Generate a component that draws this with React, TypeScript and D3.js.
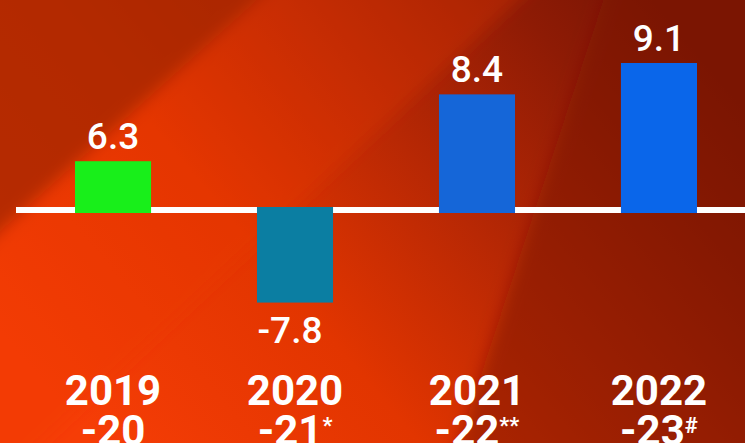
import React from 'react';
import * as d3 from 'd3';

// Growth by fiscal year (values as printed on the chart)
const years = ['2019', '2020', '2021', '2022'];
const yearSuffix = ['-20', '-21', '-22', '-23'];
const footMarks = ['', '*', '**', '#'];
const growth = [6.3, -7.8, 8.4, 9.1];
const barColors = ['#18ef1a', '#0b7ea2', '#1566d8', '#0a66ea'];

const width = 745;
const height = 443;

export default function App() {
    const idx = d3.range(years.length);

    const x = d3.scaleBand<number>()
        .domain(idx)
        .range([75, 697])
        .paddingInner(0.582)
        .paddingOuter(0);

    // the source infographic is not drawn to a linear scale; a cubic one fits it best
    const maxV = d3.max(growth, (d) => Math.abs(d)) as number;
    const y = d3.scalePow()
        .exponent(3)
        .domain([0, maxV])
        .range([210, 63]);

    const y0 = y(0);
    const lineW = 6;
    const valueFont = 37;

    return (
        <div style={{ width, height, overflow: 'hidden' }}>
            <style>{'body{margin:0}'}</style>
            <svg width={width} height={height} style={{ display: 'block' }}
                fontFamily="Roboto, 'Noto Sans', sans-serif">
                <defs>
                    <linearGradient id="bg" x1="0" y1="0.75" x2="1" y2="0.25">
                        <stop offset="0" stopColor="#f63d06" />
                        <stop offset="0.35" stopColor="#e23500" />
                        <stop offset="0.6" stopColor="#b82804" />
                        <stop offset="0.85" stopColor="#8e1b05" />
                        <stop offset="1" stopColor="#7a1505" />
                    </linearGradient>
                    <filter id="soft" x="-20%" y="-20%" width="140%" height="140%">
                        <feGaussianBlur stdDeviation="8" />
                    </filter>
                </defs>

                {/* background */}
                <rect width={width} height={height} fill="url(#bg)" />
                <g filter="url(#soft)">
                    <polygon points="-20,-20 280,-20 -20,250" fill="#a82600" opacity={0.8} />
                    <polygon points="280,-20 540,-20 -20,500 -20,250" fill="#ec3a04" opacity={0.3} />
                    <polygon points="610,-20 780,-20 780,470 450,470" fill="#7e1604" opacity={0.5} />
                </g>

                {/* zero line */}
                <line x1={16} x2={width} y1={y0} y2={y0} stroke="#ffffff" strokeWidth={lineW} />

                {/* bars */}
                {idx.map((i) => {
                    const v = growth[i];
                    const top = v >= 0 ? y(v) : y0 - lineW / 2;
                    const bottom = v >= 0 ? y0 + lineW / 2 : y(v);
                    return (
                        <rect key={'b' + i} x={x(i)} y={top} width={x.bandwidth()}
                            height={bottom - top} fill={barColors[i]} />
                    );
                })}

                {/* value labels */}
                {idx.map((i) => {
                    const v = growth[i];
                    const cx = (x(i) as number) + x.bandwidth() / 2;
                    const ty = v >= 0 ? y(v) - 12 : y(v) + 14 + valueFont * 0.711;
                    return (
                        <text key={'v' + i} x={cx - (v < 0 ? 5 : 0)} y={ty} textAnchor="middle"
                            fill="#ffffff" fontSize={valueFont} fontWeight={500}>
                            {v.toFixed(1)}
                        </text>
                    );
                })}

                {/* category labels */}
                {idx.map((i) => {
                    const cx = (x(i) as number) + x.bandwidth() / 2;
                    return (
                        <g key={'c' + i} fill="#ffffff" fontWeight={700} textAnchor="middle">
                            <text x={cx} y={405} fontSize={42}>{years[i]}</text>
                            <text x={cx} y={445} fontSize={42}>
                                {yearSuffix[i]}
                                {footMarks[i] && (
                                    <tspan fontSize={22} dy={-12}>{footMarks[i]}</tspan>
                                )}
                            </text>
                        </g>
                    );
                })}
            </svg>
        </div>
    );
}
